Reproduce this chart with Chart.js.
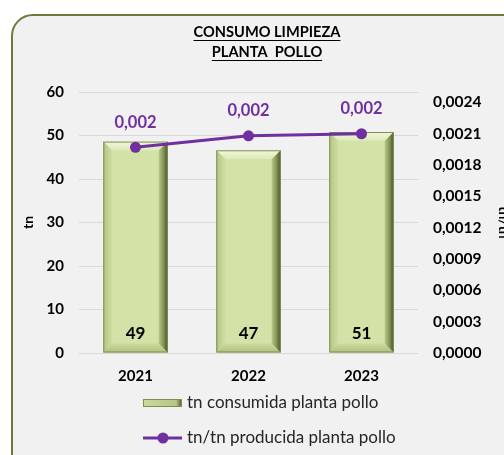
<!DOCTYPE html>
<html><head><meta charset="utf-8">
<script src="https://cdn.jsdelivr.net/npm/chart.js@4.4.0/dist/chart.umd.min.js"></script>
<style>
html,body{margin:0;padding:0;background:#fff;width:504px;height:455px;overflow:hidden;position:relative}
#frame{position:absolute;left:11px;top:14px;width:540px;height:480px;border:2px solid #6b7b3c;border-radius:22px;background:#f1f1f1;box-sizing:border-box}
#wrap{position:absolute;left:0;top:0;width:530px;height:455px}
</style></head><body>
<div id="frame"></div>
<div id="wrap"><canvas id="c" width="530" height="455"></canvas></div>
<script>
const categories = ['2021', '2022', '2023'];
const tnConsumida = [48.6, 46.6, 50.8];
const tnPorTn = [0.00197, 0.00208, 0.00210];
const leftTicks = [0, 10, 20, 30, 40, 50, 60];
const rightTicks = [0, 0.0003, 0.0006, 0.0009, 0.0012, 0.0015, 0.0018, 0.0021, 0.0024];
const seriesNames = ['tn consumida planta pollo', 'tn/tn producida planta pollo'];
const titleLines = ['CONSUMO LIMPIEZA', 'PLANTA  POLLO'];
const axisTitles = ['tn', 'tn/tn'];

const FONT = 'Lato, "Open Sans", sans-serif';
const PURPLE = '#7030a0';
const BAR = '#d3e2a7';

function comma(v, d) { return v.toFixed(d).replace('.', ','); }

const bevelPlugin = {
  id: 'bevel',
  afterDatasetDraw(chart, args) {
    if (args.index !== 0) return;
    const ctx = chart.ctx;
    args.meta.data.forEach(el => {
      const w = el.width, L = el.x - w / 2, R = el.x + w / 2, T = el.y, B = el.base, b = 9;
      ctx.save();
      let g = ctx.createLinearGradient(0, T, 0, T + b);
      g.addColorStop(0, '#f1f7de'); g.addColorStop(1, '#dce8b6');
      ctx.fillStyle = g;
      ctx.beginPath(); ctx.moveTo(L, T); ctx.lineTo(R, T); ctx.lineTo(R - b, T + b); ctx.lineTo(L + b, T + b); ctx.closePath(); ctx.fill();
      g = ctx.createLinearGradient(L, 0, L + b, 0);
      g.addColorStop(0, '#b3c485'); g.addColorStop(1, '#cfdfa2');
      ctx.fillStyle = g;
      ctx.beginPath(); ctx.moveTo(L, T); ctx.lineTo(L + b, T + b); ctx.lineTo(L + b, B - b); ctx.lineTo(L, B); ctx.closePath(); ctx.fill();
      g = ctx.createLinearGradient(0, B - b, 0, B);
      g.addColorStop(0, '#cbdb9c'); g.addColorStop(1, '#aebf80');
      ctx.fillStyle = g;
      ctx.beginPath(); ctx.moveTo(L, B); ctx.lineTo(R, B); ctx.lineTo(R - b, B - b); ctx.lineTo(L + b, B - b); ctx.closePath(); ctx.fill();
      g = ctx.createLinearGradient(R - b, 0, R, 0);
      g.addColorStop(0, '#b8c987'); g.addColorStop(0.6, '#7d8c52'); g.addColorStop(1, '#3f4a24');
      ctx.fillStyle = g;
      ctx.beginPath(); ctx.moveTo(R, T); ctx.lineTo(R, B); ctx.lineTo(R - b, B - b); ctx.lineTo(R - b, T + b); ctx.closePath(); ctx.fill();
      ctx.strokeStyle = '#7f8f50'; ctx.lineWidth = 1;
      ctx.strokeRect(L + 0.5, T + 0.5, w - 1, B - T - 1);
      ctx.restore();
    });
  }
};

const labelsPlugin = {
  id: 'labelsAndLegend',
  afterDraw(chart) {
    const ctx = chart.ctx;
    ctx.save();
    ctx.fillStyle = '#000'; ctx.strokeStyle = '#000';
    ctx.font = 'bold 14.6px ' + FONT;
    ctx.textAlign = 'center'; ctx.textBaseline = 'middle';
    const tx = 267, tys = [32, 52];
    titleLines.forEach((t, i) => {
      ctx.fillText(t, tx, tys[i]);
      const w = ctx.measureText(t).width;
      ctx.lineWidth = 1;
      ctx.beginPath(); ctx.moveTo(tx - w / 2, tys[i] + 8.5); ctx.lineTo(tx + w / 2, tys[i] + 8.5); ctx.stroke();
    });
    const barMeta = chart.getDatasetMeta(0);
    ctx.font = 'bold 17px ' + FONT;
    ctx.fillStyle = '#000';
    barMeta.data.forEach((el, i) => {
      ctx.fillText(Math.round(chart.data.datasets[0].data[i]).toString(), el.x, el.base - 19);
    });
    const lineMeta = chart.getDatasetMeta(1);
    ctx.font = 'bold 16.5px ' + FONT;
    ctx.fillStyle = PURPLE;
    lineMeta.data.forEach((el, i) => {
      ctx.fillText(comma(chart.data.datasets[1].data[i], 3), el.x, el.y - 25);
    });
    ctx.font = '17px ' + FONT;
    ctx.textAlign = 'left';
    const lx = 143, ly1 = 403, ly2 = 438;
    let g = ctx.createLinearGradient(lx, 0, lx + 39, 0);
    g.addColorStop(0, '#c9da9c'); g.addColorStop(0.85, '#b5c686'); g.addColorStop(1, '#4a5630');
    ctx.fillStyle = g;
    ctx.fillRect(lx, ly1 - 3.5, 39, 7);
    ctx.strokeStyle = '#7f8f50'; ctx.lineWidth = 1;
    ctx.strokeRect(lx + 0.5, ly1 - 3.5, 38, 7);
    ctx.fillStyle = '#262626';
    ctx.fillText(chart.data.datasets[0].label, lx + 44, ly1);
    ctx.strokeStyle = PURPLE; ctx.lineWidth = 3;
    ctx.beginPath(); ctx.moveTo(lx, ly2); ctx.lineTo(lx + 39, ly2); ctx.stroke();
    ctx.fillStyle = PURPLE;
    ctx.beginPath(); ctx.arc(lx + 20, ly2, 5.5, 0, Math.PI * 2); ctx.fill();
    ctx.fillStyle = '#262626';
    ctx.fillText(chart.data.datasets[1].label, lx + 44, ly2);
    ctx.restore();
  }
};

new Chart(document.getElementById('c'), {
  data: {
    labels: categories,
    datasets: [
      {
        type: 'bar', label: seriesNames[0], data: tnConsumida, yAxisID: 'y',
        backgroundColor: BAR, borderWidth: 0, order: 2,
        categoryPercentage: 1, barPercentage: 0.57
      },
      {
        type: 'line', label: seriesNames[1], data: tnPorTn, yAxisID: 'y1',
        borderColor: PURPLE, backgroundColor: PURPLE, borderWidth: 3,
        pointRadius: 5.5, pointBackgroundColor: PURPLE, pointBorderWidth: 0,
        tension: 0, order: 1
      }
    ]
  },
  options: {
    responsive: false,
    animation: false,
    events: [],
    layout: { padding: { top: 92, left: 0, right: 0, bottom: 0 } },
    plugins: { legend: { display: false }, tooltip: { enabled: false }, title: { display: false } },
    scales: {
      x: {
        grid: { display: false, drawTicks: false },
        border: { display: false },
        ticks: { font: { family: FONT, size: 15, weight: 'bold' }, color: '#000', padding: 14 },
        afterFit: s => { s.height = 102; }
      },
      y: {
        position: 'left', min: 0, max: 60,
        afterBuildTicks: s => { s.ticks = leftTicks.map(v => ({ value: v })); },
        grid: { color: '#d9d9d9', lineWidth: 1, drawTicks: false },
        border: { display: false },
        ticks: { font: { family: FONT, size: 15, weight: 'bold' }, color: '#000', padding: 15 },
        title: { display: true, text: axisTitles[0], font: { family: FONT, size: 14, weight: 'bold' }, color: '#000', padding: { top: 20, bottom: 0 } },
        afterFit: s => { s.width = 79; }
      },
      y1: {
        position: 'right', min: 0, max: 0.0025,
        afterBuildTicks: s => { s.ticks = rightTicks.map(v => ({ value: v })); },
        grid: { display: false, drawTicks: false },
        border: { display: false },
        ticks: { font: { family: FONT, size: 15.5, weight: 'bold' }, color: '#000', padding: 15, callback: v => comma(v, 4) },
        title: { display: true, text: axisTitles[1], font: { family: FONT, size: 14, weight: 'bold' }, color: '#000', padding: { top: 18, bottom: 0 } },
        afterFit: s => { s.width = 112; }
      }
    }
  },
  plugins: [bevelPlugin, labelsPlugin]
});
</script>
</body></html>
